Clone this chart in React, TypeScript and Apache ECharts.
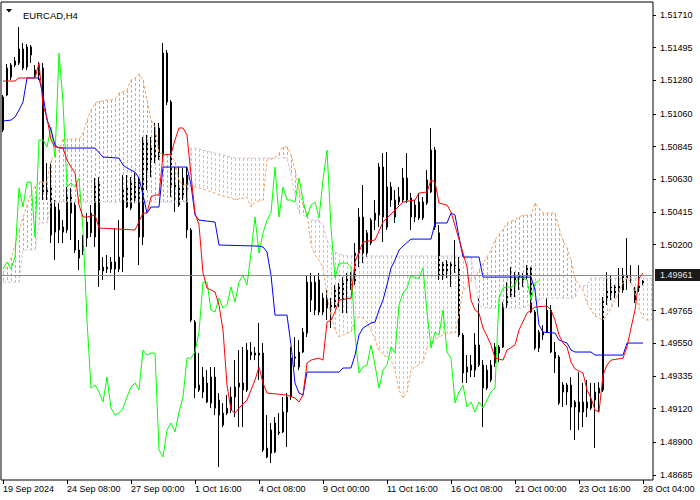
import React, { useEffect, useRef } from "react";
import * as echarts from "echarts";

const symbolTitle = "EURCAD,H4";
const tickLabels = ["19 Sep 2024", "24 Sep 08:00", "27 Sep 00:00", "1 Oct 16:00", "4 Oct 08:00", "9 Oct 00:00", "11 Oct 16:00", "16 Oct 08:00", "21 Oct 00:00", "23 Oct 16:00", "28 Oct 04:00"];
const barsPerTick = 16;
const slotCount = 163;
const priceLabels = [1.5171, 1.51495, 1.5128, 1.5106, 1.50845, 1.5063, 1.50415, 1.502, 1.49765, 1.4955, 1.49335, 1.4912, 1.489, 1.48685];
const priceMin = 1.48651;
const priceMax = 1.51796;
const lastPrice = 1.49961;
const chikouShift = 26;

// [open, close, low, high]
const candles = [
  [1.50954, 1.51171, 1.5094, 1.51184], [1.51184, 1.51362, 1.51177, 1.51388], [1.51302, 1.51381, 1.51283, 1.51394], [1.51381, 1.51408, 1.51368, 1.51434], [1.51394, 1.51487, 1.51381, 1.51631],
  [1.51487, 1.51362, 1.51348, 1.51526], [1.51368, 1.515, 1.51348, 1.51519], [1.51447, 1.515, 1.51394, 1.51513], [1.51315, 1.51348, 1.51302, 1.51381], [1.51381, 1.51315, 1.51283, 1.51401],
  [1.51362, 1.50539, 1.50493, 1.51394], [1.50539, 1.50572, 1.50493, 1.50736], [1.50572, 1.50263, 1.5021, 1.50736], [1.50447, 1.50282, 1.50098, 1.50493], [1.50427, 1.50296, 1.5021, 1.50473],
  [1.50315, 1.50282, 1.5021, 1.50361], [1.50296, 1.50513, 1.50277, 1.50579], [1.50407, 1.50513, 1.5023, 1.50572], [1.5046, 1.50164, 1.50144, 1.5048], [1.50164, 1.50111, 1.50032, 1.5023],
  [1.50164, 1.50197, 1.50131, 1.50263], [1.50243, 1.50348, 1.50184, 1.50407], [1.50277, 1.50407, 1.5025, 1.5046], [1.5025, 1.50605, 1.50184, 1.50638], [1.50605, 1.50032, 1.49921, 1.50644],
  [1.50026, 1.50052, 1.49967, 1.50118], [1.50052, 1.50039, 1.50013, 1.50131], [1.50039, 1.50085, 1.50013, 1.50118], [1.50085, 1.50039, 1.49901, 1.50309], [1.50039, 1.50118, 1.50019, 1.50361],
  [1.50118, 1.50572, 1.50019, 1.50657], [1.50572, 1.50447, 1.5044, 1.50657], [1.5044, 1.50611, 1.50427, 1.50644], [1.50493, 1.50611, 1.50473, 1.50671], [1.50611, 1.5025, 1.50065, 1.50644],
  [1.5025, 1.50888, 1.50197, 1.50908], [1.50671, 1.50888, 1.50559, 1.50921], [1.50756, 1.50842, 1.50644, 1.50908], [1.50756, 1.50973, 1.50736, 1.51], [1.50967, 1.50776, 1.50756, 1.51],
  [1.50776, 1.5146, 1.50756, 1.51526], [1.5146, 1.51138, 1.51118, 1.5148], [1.51138, 1.50579, 1.50513, 1.51151], [1.50572, 1.50605, 1.50414, 1.5071], [1.5046, 1.50579, 1.50447, 1.5071],
  [1.50526, 1.50638, 1.50493, 1.50704], [1.50657, 1.50296, 1.50243, 1.5071], [1.50296, 1.49703, 1.4969, 1.50309], [1.4969, 1.49256, 1.4919, 1.49703], [1.49243, 1.49276, 1.4923, 1.49486],
  [1.49328, 1.4923, 1.4919, 1.49394], [1.49289, 1.49164, 1.49157, 1.49374], [1.49157, 1.49328, 1.49124, 1.49394], [1.49328, 1.49124, 1.49078, 1.49394], [1.49177, 1.49078, 1.48736, 1.49223],
  [1.49012, 1.49091, 1.48999, 1.49157], [1.49091, 1.49124, 1.49078, 1.4921], [1.49111, 1.49197, 1.49091, 1.49263], [1.49197, 1.49263, 1.49065, 1.4944], [1.49263, 1.49289, 1.48999, 1.49506],
  [1.49289, 1.49243, 1.48999, 1.49526], [1.49243, 1.49506, 1.4923, 1.49552], [1.49493, 1.49473, 1.4944, 1.49559], [1.49473, 1.49486, 1.4944, 1.49526], [1.49473, 1.49486, 1.49309, 1.49684],
  [1.49486, 1.48848, 1.48835, 1.49552], [1.48861, 1.48802, 1.48795, 1.49078], [1.48828, 1.4898, 1.48762, 1.49026], [1.48835, 1.49026, 1.48828, 1.49065], [1.4896, 1.48967, 1.48947, 1.49091],
  [1.48967, 1.49098, 1.4896, 1.49197], [1.49098, 1.49197, 1.48868, 1.49223], [1.49197, 1.49453, 1.49177, 1.49526], [1.4946, 1.49453, 1.49394, 1.49592], [1.49394, 1.49493, 1.49374, 1.49572],
  [1.49493, 1.49624, 1.49486, 1.49651], [1.49618, 1.49953, 1.49592, 1.49999], [1.49835, 1.49953, 1.49756, 1.50013], [1.49953, 1.49769, 1.49736, 1.49999], [1.49967, 1.49756, 1.49736, 1.50013],
  [1.49756, 1.49848, 1.49736, 1.49881], [1.49848, 1.49782, 1.49703, 1.49901], [1.49769, 1.49802, 1.49651, 1.49848], [1.49789, 1.49921, 1.49782, 1.49934], [1.49921, 1.49822, 1.49789, 1.49947],
  [1.49822, 1.49953, 1.49749, 1.49986], [1.49947, 1.49999, 1.49749, 1.50013], [1.49999, 1.49934, 1.49901, 1.50019], [1.49947, 1.50144, 1.49934, 1.5021], [1.50144, 1.50381, 1.50052, 1.5044],
  [1.50381, 1.50144, 1.50078, 1.50592], [1.50144, 1.50277, 1.50118, 1.50296], [1.5021, 1.50361, 1.50197, 1.50375], [1.50361, 1.50407, 1.50296, 1.50493], [1.50394, 1.5071, 1.50315, 1.50736],
  [1.5071, 1.50381, 1.50217, 1.50802], [1.50315, 1.50579, 1.50296, 1.50809], [1.50579, 1.50493, 1.50447, 1.50611], [1.50381, 1.50493, 1.50342, 1.50559], [1.50513, 1.5048, 1.5046, 1.50579],
  [1.50493, 1.50638, 1.50473, 1.50704], [1.50638, 1.50493, 1.50473, 1.50802], [1.50506, 1.50381, 1.50296, 1.50539], [1.50381, 1.5046, 1.50348, 1.50493], [1.50375, 1.5048, 1.50361, 1.50539],
  [1.5048, 1.50375, 1.50361, 1.50513], [1.50473, 1.50625, 1.5046, 1.5069], [1.50546, 1.50822, 1.50539, 1.50967], [1.50822, 1.50315, 1.50296, 1.50842], [1.50277, 1.4998, 1.49967, 1.50329],
  [1.4998, 1.50078, 1.49967, 1.50085], [1.50019, 1.50078, 1.4998, 1.50098], [1.50046, 1.50078, 1.49921, 1.50085], [1.50065, 1.50052, 1.50013, 1.5023], [1.50052, 1.49605, 1.49592, 1.50118],
  [1.49605, 1.49355, 1.49289, 1.49618], [1.49361, 1.49394, 1.49289, 1.49473], [1.49374, 1.49407, 1.49328, 1.49473], [1.49374, 1.49539, 1.49328, 1.49618], [1.49539, 1.49407, 1.49394, 1.49848],
  [1.49407, 1.49256, 1.48999, 1.4944], [1.49256, 1.49374, 1.49243, 1.49407], [1.49309, 1.49407, 1.49295, 1.4944], [1.4942, 1.49526, 1.49394, 1.49552], [1.49526, 1.49486, 1.49427, 1.49539],
  [1.49526, 1.49802, 1.49519, 1.49822], [1.49802, 1.49881, 1.49782, 1.49953], [1.49868, 1.49914, 1.49855, 1.50052], [1.49914, 1.49999, 1.49855, 1.50019], [1.49999, 1.4998, 1.49901, 1.50019],
  [1.49967, 1.4998, 1.49921, 1.50013], [1.49986, 1.50046, 1.49967, 1.50065], [1.50046, 1.49756, 1.49749, 1.50052], [1.49756, 1.49519, 1.49506, 1.49769], [1.49519, 1.49624, 1.49493, 1.49638],
  [1.49624, 1.49605, 1.49572, 1.4967], [1.49624, 1.49769, 1.49618, 1.49848], [1.49769, 1.49493, 1.49486, 1.49802], [1.49493, 1.49453, 1.49355, 1.49559], [1.4946, 1.49157, 1.49144, 1.49473],
  [1.49276, 1.4923, 1.49131, 1.49295], [1.4923, 1.49276, 1.49144, 1.49289], [1.49276, 1.49131, 1.4898, 1.49328], [1.49131, 1.49164, 1.48914, 1.49177], [1.49164, 1.49098, 1.4898, 1.49361],
  [1.49098, 1.49164, 1.48999, 1.49289], [1.49164, 1.49124, 1.49065, 1.49309], [1.49124, 1.49177, 1.49111, 1.49289], [1.49177, 1.4923, 1.48861, 1.49289], [1.49223, 1.49256, 1.49098, 1.49295],
  [1.49243, 1.49848, 1.4923, 1.49855], [1.49848, 1.49914, 1.49802, 1.50019], [1.49881, 1.49921, 1.49835, 1.49999], [1.49881, 1.49921, 1.49848, 1.49934], [1.49888, 1.49934, 1.49789, 1.50046],
  [1.49901, 1.49999, 1.49881, 1.50046], [1.49999, 1.4998, 1.49901, 1.50243], [1.4998, 1.49967, 1.49947, 1.50065], [1.49914, 1.49835, 1.49815, 1.49921], [1.49901, 1.49947, 1.49888, 1.50065],
  [1.49947, 1.49961, 1.49934, 1.49967],
];

// [bar index, price]
const tenkan = [
  [0, 1.51276], [3, 1.51276], [4, 1.51296], [8, 1.51296], [9, 1.51394], [10, 1.51118], [11, 1.51033], [12, 1.50888], [13, 1.50842], [15, 1.50835],
  [16, 1.50756], [17, 1.5071], [18, 1.50671], [19, 1.5046], [20, 1.50381], [21, 1.50381], [23, 1.50394], [24, 1.50309], [33, 1.50296], [35, 1.50407],
  [36, 1.50407], [37, 1.50513], [38, 1.50526], [39, 1.50526], [40, 1.50789], [42, 1.50796], [43, 1.50888], [44, 1.50967], [45, 1.50967], [46, 1.50921],
  [47, 1.50657], [48, 1.50407], [49, 1.50329], [50, 1.50013], [51, 1.49914], [53, 1.49888], [54, 1.49802], [55, 1.49638], [56, 1.49276], [57, 1.49111],
  [58, 1.49091], [59, 1.49124], [61, 1.49177], [63, 1.49309], [64, 1.49394], [65, 1.49289], [66, 1.49223], [71, 1.4921], [73, 1.4919], [74, 1.49164],
  [75, 1.4921], [76, 1.4942], [77, 1.4944], [79, 1.49453], [80, 1.4944], [81, 1.4969], [82, 1.49703], [83, 1.49756], [84, 1.49835], [87, 1.49848],
  [88, 1.50085], [89, 1.50151], [90, 1.50217], [93, 1.5023], [95, 1.50348], [98, 1.50427], [100, 1.5048], [103, 1.50493], [104, 1.50539], [106, 1.50546],
  [107, 1.50625], [108, 1.50611], [109, 1.50473], [111, 1.5046], [112, 1.50414], [115, 1.50144], [116, 1.50052], [117, 1.49835], [118, 1.49769], [119, 1.49749],
  [120, 1.49651], [121, 1.49598], [122, 1.49539], [123, 1.49453], [125, 1.4944], [126, 1.49506], [128, 1.49539], [129, 1.49638], [131, 1.49749], [133, 1.49789],
  [136, 1.49796], [137, 1.49769], [138, 1.49703], [139, 1.49605], [140, 1.49552], [141, 1.49526], [142, 1.49427], [143, 1.49381], [145, 1.49355], [146, 1.49243],
  [147, 1.4919], [148, 1.49111], [149, 1.49098], [150, 1.49342], [151, 1.49407], [152, 1.4944], [155, 1.49453], [156, 1.49526], [157, 1.49651], [158, 1.49769],
  [159, 1.4998], [160, 1.50013],
];

const kijun = [
  [0, 1.51013], [2, 1.51019], [3, 1.51039], [4, 1.51085], [5, 1.51138], [6, 1.51296], [9, 1.51296], [10, 1.51184], [11, 1.51019], [12, 1.50954],
  [13, 1.50855], [14, 1.50835], [23, 1.50835], [25, 1.50776], [29, 1.50769], [30, 1.50723], [31, 1.50704], [33, 1.50677], [34, 1.50638], [35, 1.50526],
  [36, 1.50407], [37, 1.50447], [39, 1.50447], [40, 1.5071], [46, 1.5071], [47, 1.50592], [48, 1.50394], [49, 1.50361], [53, 1.50348], [54, 1.50197],
  [64, 1.5019], [65, 1.50184], [66, 1.50151], [67, 1.49999], [68, 1.49736], [71, 1.49736], [72, 1.49539], [73, 1.49289], [74, 1.49223], [75, 1.4921],
  [76, 1.49361], [84, 1.49361], [85, 1.49388], [87, 1.49388], [88, 1.49473], [89, 1.49605], [90, 1.49651], [92, 1.49684], [93, 1.4969], [94, 1.49769],
  [95, 1.49835], [96, 1.49934], [97, 1.50046], [98, 1.50098], [99, 1.50164], [100, 1.5019], [102, 1.50236], [107, 1.50236], [108, 1.50342], [111, 1.50342],
  [112, 1.50407], [113, 1.50394], [114, 1.5025], [115, 1.50118], [119, 1.50118], [120, 1.49986], [132, 1.49986], [133, 1.49901], [134, 1.4967], [135, 1.49624],
  [138, 1.49618], [139, 1.49572], [141, 1.49552], [142, 1.49506], [143, 1.49493], [147, 1.49493], [148, 1.49473], [155, 1.49473], [156, 1.49552], [160, 1.49552],
];

// one value per bar slot (0..162)
const senkouA = [
  1.50013, 1.50052, 1.50112, 1.50197, 1.50296, 1.50375, 1.5046, 1.50539, 1.50585, 1.50611,
  1.50611, 1.50611, 1.50756, 1.50789, 1.50822, 1.50894, 1.50894, 1.50894, 1.50894, 1.50894,
  1.50934, 1.51019, 1.51085, 1.51131, 1.51144, 1.51144, 1.51151, 1.51151, 1.51158, 1.51197,
  1.51204, 1.51217, 1.51283, 1.51296, 1.51322, 1.51283, 1.51151, 1.51019, 1.50973, 1.50802,
  1.50796, 1.50789, 1.50789, 1.50743, 1.50625, 1.50592, 1.50592, 1.50585, 1.50579, 1.50572,
  1.50565, 1.50559, 1.50546, 1.50539, 1.50526, 1.50519, 1.50513, 1.50506, 1.50493, 1.505,
  1.50506, 1.50513, 1.50447, 1.5048, 1.50487, 1.50493, 1.50756, 1.50763, 1.50769, 1.50802,
  1.50842, 1.50842, 1.50789, 1.5069, 1.50559, 1.5046, 1.50407, 1.50197, 1.50131, 1.50098,
  1.50046, 1.49868, 1.49736, 1.49638, 1.49592, 1.49605, 1.49618, 1.49624, 1.49703, 1.49723,
  1.49717, 1.4969, 1.49638, 1.49572, 1.49506, 1.49473, 1.4946, 1.4944, 1.49374, 1.49243,
  1.4919, 1.4923, 1.49374, 1.49394, 1.49407, 1.49427, 1.49519, 1.49539, 1.49572, 1.49592,
  1.49605, 1.49618, 1.49618, 1.49618, 1.49736, 1.49901, 1.49921, 1.4996, 1.4998, 1.50032,
  1.50078, 1.50118, 1.50164, 1.5023, 1.50269, 1.50302, 1.50342, 1.50355, 1.50361, 1.50381,
  1.50394, 1.50394, 1.50394, 1.50473, 1.5044, 1.50407, 1.50407, 1.50407, 1.50407, 1.50309,
  1.5023, 1.50177, 1.50098, 1.4998, 1.49934, 1.49901, 1.49815, 1.49769, 1.4973, 1.49717,
  1.49703, 1.49736, 1.49782, 1.49835, 1.49888, 1.49947, 1.4998, 1.49953, 1.49881, 1.49782,
  1.49717, 1.49703, 1.49703,
];

const senkouB = [
  1.49953, 1.49953, 1.49953, 1.49953, 1.49953, 1.50164, 1.50164, 1.50164, 1.50164, 1.50342,
  1.50342, 1.50342, 1.5048, 1.5048, 1.5048, 1.5048, 1.5048, 1.5048, 1.5048, 1.5048,
  1.5048, 1.5048, 1.5048, 1.5048, 1.5048, 1.5048, 1.5048, 1.5048, 1.5048, 1.5048,
  1.5048, 1.5048, 1.5048, 1.5048, 1.5048, 1.5048, 1.5048, 1.5048, 1.5048, 1.5048,
  1.5048, 1.5048, 1.5048, 1.5048, 1.5048, 1.5048, 1.5048, 1.50835, 1.50835, 1.50829,
  1.50822, 1.50815, 1.50809, 1.50802, 1.50796, 1.50789, 1.50783, 1.50776, 1.50769, 1.50769,
  1.50769, 1.50769, 1.50769, 1.50769, 1.50769, 1.50769, 1.50769, 1.50769, 1.50769, 1.50769,
  1.50769, 1.50769, 1.50657, 1.50526, 1.50407, 1.50394, 1.50381, 1.50361, 1.50361, 1.50361,
  1.50329, 1.5023, 1.50184, 1.50151, 1.50138, 1.50131, 1.50125, 1.50125, 1.50125, 1.50125,
  1.50125, 1.50125, 1.50125, 1.50125, 1.50125, 1.50125, 1.50125, 1.50125, 1.50125, 1.50125,
  1.50125, 1.50125, 1.50125, 1.50125, 1.50125, 1.50125, 1.50125, 1.50125, 1.50125, 1.50125,
  1.50125, 1.50125, 1.50125, 1.50125, 1.50125, 1.50125, 1.50125, 1.50118, 1.49967, 1.49802,
  1.49782, 1.49782, 1.49782, 1.49782, 1.49782, 1.49782, 1.49782, 1.49782, 1.49782, 1.49782,
  1.49782, 1.49796, 1.49809, 1.49822, 1.49835, 1.49848, 1.49848, 1.49848, 1.49848, 1.49848,
  1.49848, 1.49848, 1.49848, 1.49848, 1.49921, 1.49927, 1.49934, 1.4998, 1.4998, 1.4998,
  1.4998, 1.4998, 1.4998, 1.4998, 1.4998, 1.4998, 1.4998, 1.4998, 1.4998, 1.4998,
  1.4998, 1.4998, 1.4998,
];

const COLORS = {
  tenkan: "#ff0000",
  kijun: "#0000ff",
  chikou: "#00ff00",
  spanA: "#f4a460",
  spanB: "#d8bfd8",
  priceLine: "#808080",
};
const FONT = "Liberation Sans";
const DASH = 3;
const GAP = 2;

export default function App() {
  const ref = useRef<HTMLDivElement>(null);

  useEffect(() => {
    if (!ref.current) return;
    const chart = echarts.init(ref.current, null, { renderer: "svg" });

    const categories = Array.from({ length: slotCount }, (_, i) =>
      i % barsPerTick === 0 && i / barsPerTick < tickLabels.length ? tickLabels[i / barsPerTick] : ""
    );
    const chikou = candles.slice(chikouShift).map((c, i) => [i, c[1]]);
    const cloud = senkouA.map((a, i) => [i, a, senkouB[i]]);
    const showTick = (idx: number) => categories[idx] !== "";

    chart.setOption({
      animation: false,
      backgroundColor: "#ffffff",
      title: {
        text: symbolTitle,
        left: 18,
        top: 5,
        textStyle: { fontSize: 9.5, fontWeight: "normal", color: "#000", fontFamily: FONT },
      },
      graphic: [
        {
          type: "polygon",
          shape: { points: [[6, 9], [12, 9], [9, 12.5]] },
          style: { fill: "#000" },
          z: 100,
        },
      ],
      grid: {
        left: 1,
        top: 2,
        width: 652,
        height: 478,
        show: true,
        borderColor: "#000",
        borderWidth: 1,
        backgroundColor: "#fff",
      },
      xAxis: {
        type: "category",
        data: categories,
        boundaryGap: true,
        axisLine: { show: false },
        axisTick: {
          show: true,
          alignWithLabel: true,
          interval: showTick,
          length: 4,
          lineStyle: { color: "#000" },
        },
        axisLabel: {
          interval: showTick,
          align: "left",
          margin: 4,
          fontSize: 9,
          fontFamily: FONT,
          color: "#000",
        },
        splitLine: { show: false },
      },
      yAxis: {
        type: "value",
        position: "right",
        min: priceMin,
        max: priceMax,
        splitLine: { show: false },
        axisLine: { show: false },
        axisTick: { show: true, length: 3, customValues: priceLabels, lineStyle: { color: "#000" } },
        axisLabel: {
          customValues: priceLabels,
          formatter: (v: number) => v.toFixed(5),
          margin: 7,
          fontSize: 9,
          fontFamily: FONT,
          color: "#000",
        },
      },
      series: [
        {
          type: "candlestick",
          data: candles,
          barWidth: 2,
          z: 2,
          itemStyle: {
            color: "#ffffff",
            color0: "#000000",
            borderColor: "#000000",
            borderColor0: "#000000",
            borderWidth: 1,
          },
          markLine: {
            silent: true,
            symbol: ["none", "none"],
            data: [{ yAxis: lastPrice }],
            lineStyle: { color: COLORS.priceLine, width: 1, type: "solid", opacity: 0.9 },
            label: {
              position: "end",
              formatter: lastPrice.toFixed(5),
              color: "#fff",
              backgroundColor: "#000",
              padding: [2, 8, 1, 5],
              distance: 2,
              fontSize: 9,
              fontFamily: FONT,
            },
          },
        },
        {
          type: "custom",
          data: cloud,
          z: 3,
          silent: true,
          encode: { x: 0, y: [1, 2] },
          renderItem: (params: any, api: any) => {
            const i = api.value(0);
            const a = api.value(1);
            const b = api.value(2);
            const pa = api.coord([i, a]);
            const pb = api.coord([i, b]);
            const x = Math.round(pa[0]);
            const top = Math.round(Math.min(pa[1], pb[1]));
            const bottom = Math.round(Math.max(pa[1], pb[1]));
            const fill = a >= b ? COLORS.spanA : COLORS.spanB;
            const children: any[] = [];
            for (let y = top; y < bottom; y += DASH + GAP) {
              children.push({
                type: "rect",
                shape: { x: x, y: y, width: 1, height: Math.min(DASH, bottom - y) },
                style: { fill },
              });
            }
            return { type: "group", children };
          },
        },
        {
          type: "line",
          data: senkouA,
          z: 3,
          showSymbol: false,
          silent: true,
          lineStyle: { color: COLORS.spanA, width: 1, type: [3, 2] },
        },
        {
          type: "line",
          data: senkouB,
          z: 3,
          showSymbol: false,
          silent: true,
          lineStyle: { color: COLORS.spanB, width: 1, type: [3, 2] },
        },
        {
          type: "line",
          data: chikou,
          z: 4,
          showSymbol: false,
          silent: true,
          lineStyle: { color: COLORS.chikou, width: 1 },
        },
        {
          type: "line",
          data: kijun,
          z: 4,
          showSymbol: false,
          silent: true,
          lineStyle: { color: COLORS.kijun, width: 1 },
        },
        {
          type: "line",
          data: tenkan,
          z: 5,
          showSymbol: false,
          silent: true,
          lineStyle: { color: COLORS.tenkan, width: 1 },
        },
      ],
    });

    return () => chart.dispose();
  }, []);

  return (
    <div
      ref={ref}
      style={{ position: "fixed", left: 0, top: 0, width: 700, height: 500, background: "#fff" }}
    />
  );
}
